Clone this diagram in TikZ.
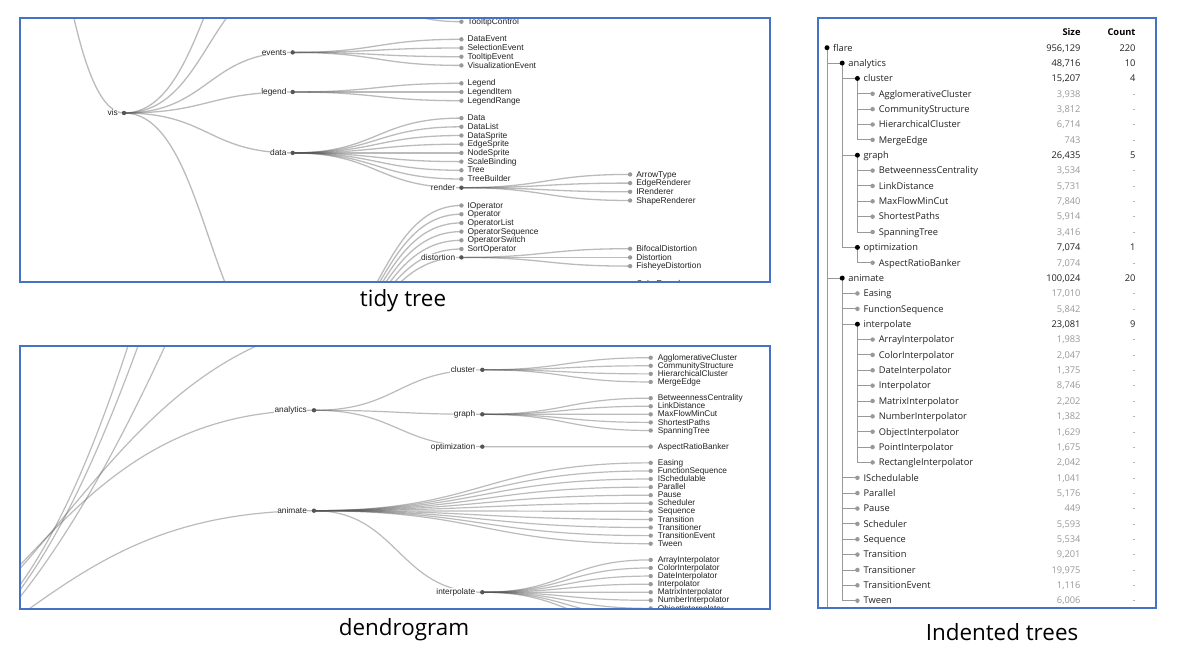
\documentclass[tikz,border=0pt]{standalone}
\usepackage{fontspec}
\setmainfont{Liberation Sans}
\newfontfamily\osans{Open Sans}
\usetikzlibrary{calc}
\definecolor{frameblue}{RGB}{68,114,196}
\definecolor{linkc}{HTML}{555555}
\definecolor{leafc}{HTML}{999999}
\definecolor{txt}{HTML}{222222}
\begin{document}
\begin{tikzpicture}[x=1pt,y=-1pt,
  hlink/.style={to path={let \p1=(\tikztostart),\p2=(\tikztotarget) in .. controls ({0.5*\x1+0.5*\x2},\y1) and ({0.5*\x1+0.5*\x2},\y2) .. (\tikztotarget)}},
  tlink/.style={draw=linkc, draw opacity=0.4, line width=1.3pt, hlink},
  dlinkplain/.style={draw=linkc, draw opacity=0.4, line width=1.2pt},
  dlink/.style={dlinkplain, hlink},
  ilink/.style={draw=leafc, line width=0.9pt},
  dotI/.style={circle, fill=linkc, inner sep=0pt, minimum size=4.4pt},
  dotL/.style={circle, fill=leafc, inner sep=0pt, minimum size=4.4pt},
  tlab/.style={font=\fontsize{8.4}{8.4}\selectfont, text=txt, fill=white, inner sep=0.4pt},
  dlab/.style={font=\fontsize{8.3}{8.3}\selectfont, text=txt, fill=white, inner sep=0.4pt},
  itxt/.style={font=\osans\fontsize{9.3}{9.3}\selectfont, text=txt, inner sep=0pt},
  inumL/.style={font=\osans\fontsize{9.3}{9.3}\selectfont, text=leafc, inner sep=0pt},
  ihead/.style={font=\osans\bfseries\fontsize{9.3}{9.3}\selectfont, text=black, inner sep=0pt},
  idotI/.style={circle, fill=black, inner sep=0pt, minimum size=5pt},
  idotL/.style={circle, fill=leafc, inner sep=0pt, minimum size=4.5pt},
  panelframe/.style={draw=frameblue, line width=1.1pt},
  capt/.style={font=\osans\fontsize{22.4}{22.4}\selectfont, text=black, inner sep=0pt}
]
\fill[white] (0,0) rectangle (1182,657);
\useasboundingbox (0,0) rectangle (1182,657);

% ================= tidy tree =================
\def\tidyleaves{TooltipControl/461.4/21.7/controls,
DataEvent/461.4/39.3/events, SelectionEvent/461.4/48.0/events,
TooltipEvent/461.4/56.7/events, VisualizationEvent/461.4/65.4/events,
Legend/461.4/83.3/legend, LegendItem/461.4/92.0/legend, LegendRange/461.4/100.7/legend,
Data/461.4/118.1/data, DataList/461.4/126.8/data, DataSprite/461.4/135.5/data,
EdgeSprite/461.4/144.2/data, NodeSprite/461.4/152.9/data, ScaleBinding/461.4/161.6/data,
Tree/461.4/170.3/data, TreeBuilder/461.4/179.0/data,
ArrowType/630.1/174.4/render, EdgeRenderer/630.1/183.1/render,
IRenderer/630.1/191.8/render, ShapeRenderer/630.1/200.5/render,
IOperator/461.4/205.5/operator, Operator/461.4/214.2/operator,
OperatorList/461.4/222.9/operator, OperatorSequence/461.4/231.6/operator,
OperatorSwitch/461.4/240.3/operator, SortOperator/461.4/249.0/operator,
BifocalDistortion/630.1/248.7/distortion, Distortion/630.1/257.4/distortion,
FisheyeDistortion/630.1/266.1/distortion, ColorEncoder/630.1/283.5/encoder}
\begin{scope}
\clip (20,18) rectangle (770,282);
\coordinate (t-flare) at (-44.7,-495);
\coordinate (t-vis) at (124,113);
\coordinate (t-axis) at (292.7,-100);
\coordinate (t-controls) at (292.7,-21.8);
\coordinate (t-events) at (292.7,52.4);
\coordinate (t-legend) at (292.7,92);
\coordinate (t-data) at (292.7,152.9);
\coordinate (t-operator) at (292.7,359);
\coordinate (t-render) at (461.4,187.7);
\coordinate (t-distortion) at (461.4,257.4);
\coordinate (t-encoder) at (461.4,300.9);
\foreach \nm/\px/\py/\pa in \tidyleaves {\coordinate (t-\nm) at (\px,\py);}
\foreach \pa/\ch in {flare/vis, vis/axis, vis/controls, vis/events, vis/legend, vis/data,
  vis/operator, data/render, operator/distortion, operator/encoder}
  {\draw[tlink] (t-\pa) to (t-\ch);}
\foreach \nm/\px/\py/\pa in \tidyleaves {\draw[tlink] (t-\pa) to (t-\nm);}
\foreach \nm in {vis,events,legend,data,render,distortion}{
  \node[dotI] (td-\nm) at (t-\nm) {};
  \node[tlab, anchor=base east] (tl-\nm) at ([xshift=-5.6pt,yshift=-2.6pt]t-\nm) {\nm};}
\foreach \nm/\px/\py/\pa in \tidyleaves {
  \node[dotL] (td-\nm) at (t-\nm) {};
  \node[tlab, anchor=base west] (tl-\nm) at ([xshift=5.6pt,yshift=-2.6pt]t-\nm) {\nm};}
\end{scope}
\draw[panelframe] (20,18) rectangle (770,282);
\node[capt] (cap-tidy) at (403,301) {tidy tree};

% ================= dendrogram =================
\def\dendroleaves{AgglomerativeCluster/0/cluster, CommunityStructure/1/cluster,
HierarchicalCluster/2/cluster, MergeEdge/3/cluster,
BetweennessCentrality/5/graph, LinkDistance/6/graph, MaxFlowMinCut/7/graph,
ShortestPaths/8/graph, SpanningTree/9/graph,
AspectRatioBanker/11/optimization,
Easing/13/animate, FunctionSequence/14/animate, ISchedulable/15/animate,
Parallel/16/animate, Pause/17/animate, Scheduler/18/animate, Sequence/19/animate,
Transition/20/animate, Transitioner/21/animate, TransitionEvent/22/animate, Tween/23/animate,
ArrayInterpolator/25/interpolate, ColorInterpolator/26/interpolate,
DateInterpolator/27/interpolate, Interpolator/28/interpolate,
MatrixInterpolator/29/interpolate, NumberInterpolator/30/interpolate,
ObjectInterpolator/31/interpolate, PointInterpolator/32/interpolate,
RectangleInterpolator/33/interpolate}
\def\dendrointernal{analytics/314/410.27, cluster/482.3/369.83, graph/482.3/414.31,
optimization/482.3/446.66, animate/314/510.68, interpolate/482.3/592.22}
\begin{scope}
\clip (20,346) rectangle (770,609);
\coordinate (d-flare) at (-274,720);
\coordinate (d-display) at (200,100);
\coordinate (d-flex) at (220,100);
\coordinate (d-physics) at (260,120);
\coordinate (d-scale) at (400,316);
\foreach \nm/\px/\py in \dendrointernal {\coordinate (d-\nm) at (\px,\py);}
\foreach \nm/\k/\pa in \dendroleaves {\coordinate (d-\nm) at (650.7,{357.7+8.087*\k});}
\draw[dlinkplain] (d-flare) .. controls (7.5,712.1) and (70.5,574.6) .. (d-display);
\draw[dlinkplain] (d-flare) .. controls (-0.6,729.7) and (71.9,570.3) .. (d-flex);
\draw[dlinkplain] (d-flare) .. controls (-41,781.3) and (99,530.7) .. (d-physics);
\foreach \pa/\ch in {flare/scale, flare/analytics, flare/animate, analytics/cluster,
  analytics/graph, analytics/optimization, animate/interpolate}
  {\draw[dlink] (d-\pa) to (d-\ch);}
\foreach \nm/\k/\pa in \dendroleaves {\draw[dlink] (d-\pa) to (d-\nm);}
\foreach \nm/\px/\py in \dendrointernal {
  \node[dotI] (dd-\nm) at (d-\nm) {};
  \node[dlab, anchor=base east] (dl-\nm) at ([xshift=-6.5pt,yshift=-2.6pt]d-\nm) {\nm};}
\foreach \nm/\k/\pa in \dendroleaves {
  \node[dotL] (dd-\nm) at (d-\nm) {};
  \node[dlab, anchor=base west] (dl-\nm) at ([xshift=6.5pt,yshift=-2.6pt]d-\nm) {\nm};}
\end{scope}
\draw[panelframe] (20,346) rectangle (770,609);
\node[capt] (cap-dendro) at (404,630) {dendrogram};

% ================= indented tree =================
\def\indint{0/flare/0/{956,129}/220, 1/analytics/1/{48,716}/10, 2/cluster/2/{15,207}/4,
7/graph/2/{26,435}/5, 13/optimization/2/{7,074}/1, 15/animate/1/{100,024}/20,
18/interpolate/2/{23,081}/9}
\def\indleaf{3/AgglomerativeCluster/3/{3,938}, 4/CommunityStructure/3/{3,812},
5/HierarchicalCluster/3/{6,714}, 6/MergeEdge/3/743, 8/BetweennessCentrality/3/{3,534},
9/LinkDistance/3/{5,731}, 10/MaxFlowMinCut/3/{7,840}, 11/ShortestPaths/3/{5,914},
12/SpanningTree/3/{3,416}, 14/AspectRatioBanker/3/{7,074}, 16/Easing/2/{17,010},
17/FunctionSequence/2/{5,842}, 19/ArrayInterpolator/3/{1,983}, 20/ColorInterpolator/3/{2,047},
21/DateInterpolator/3/{1,375}, 22/Interpolator/3/{8,746}, 23/MatrixInterpolator/3/{2,202},
24/NumberInterpolator/3/{1,382}, 25/ObjectInterpolator/3/{1,629}, 26/PointInterpolator/3/{1,675},
27/RectangleInterpolator/3/{2,042}, 28/ISchedulable/2/{1,041}, 29/Parallel/2/{5,176},
30/Pause/2/449, 31/Scheduler/2/{5,593}, 32/Sequence/2/{5,534}, 33/Transition/2/{9,201},
34/Transitioner/2/{19,975}, 35/TransitionEvent/2/{1,116}, 36/Tween/2/{6,006}}
\begin{scope}
\clip (818,18) rectangle (1156,608);
\foreach \k/\nm/\dep/\sz/\cnt in \indint {\coordinate (i-\k) at ({827+15.2*\dep},{47.7+15.36*\k});}
\foreach \k/\nm/\dep/\sz in \indleaf {\coordinate (i-\k) at ({827+15.2*\dep},{47.7+15.36*\k});}
\coordinate (i-37) at (842.2,616.0);
\foreach \pa/\ch in {0/1, 1/2, 2/3, 2/4, 2/5, 2/6, 1/7, 7/8, 7/9, 7/10, 7/11, 7/12, 1/13, 13/14,
  0/15, 15/16, 15/17, 15/18, 18/19, 18/20, 18/21, 18/22, 18/23, 18/24, 18/25, 18/26, 18/27,
  15/28, 15/29, 15/30, 15/31, 15/32, 15/33, 15/34, 15/35, 15/36, 0/37}
  {\draw[ilink] (i-\pa) |- (i-\ch);}
\node[ihead, anchor=base east] (ih-size) at (1080.7,35.6) {Size};
\node[ihead, anchor=base east] (ih-count) at (1135.7,35.6) {Count};
\foreach \k/\nm/\dep/\sz/\cnt in \indint {
  \node[idotI] (id-\k) at (i-\k) {};
  \node[itxt, anchor=base west] (in-\k) at ([xshift=6pt,yshift=-3.3pt]i-\k) {\nm};
  \node[itxt, anchor=base east] (is-\k) at (1080.7,{47.7+15.36*\k+3.3}) {\sz};
  \node[itxt, anchor=base east] (ic-\k) at (1135.7,{47.7+15.36*\k+3.3}) {\cnt};}
\foreach \k/\nm/\dep/\sz in \indleaf {
  \node[idotL] (id-\k) at (i-\k) {};
  \node[itxt, anchor=base west] (in-\k) at ([xshift=6pt,yshift=-3.3pt]i-\k) {\nm};
  \node[inumL, anchor=base east] (is-\k) at (1080.7,{47.7+15.36*\k+3.3}) {\sz};
  \node[inumL, anchor=base east] (ic-\k) at (1135.7,{47.7+15.36*\k+3.3}) {-};}
\end{scope}
\draw[panelframe] (818,18) rectangle (1156,608);
\node[capt] (cap-indent) at (1002,632) {Indented trees};
\end{tikzpicture}
\end{document}
